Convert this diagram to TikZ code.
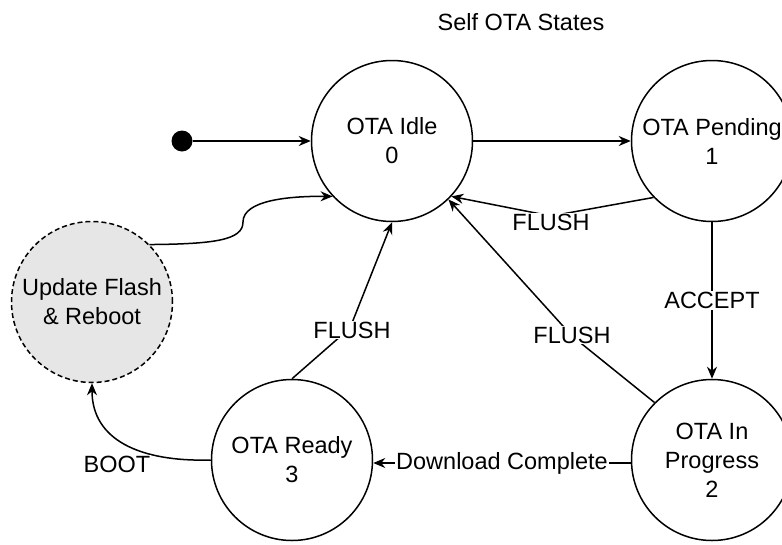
\documentclass[tikz,border=0pt]{standalone}
\usepackage{fontspec}
\setmainfont{Liberation Sans}
\usetikzlibrary{arrows.meta}
\definecolor{flashgray}{HTML}{E6E6E6}
\begin{document}
\begin{tikzpicture}[x=1pt,y=-1pt,
  font=\fontsize{23.5}{29}\selectfont,
  state/.style={circle,draw,line width=1.5pt,minimum size=161pt,inner sep=0pt,align=center},
  dashstate/.style={state,fill=flashgray,dash pattern=on 5pt off 3pt},
  arr/.style={line width=1.5pt,-{Stealth[length=12pt,width=10pt]}},
  lbl/.style={fill=white,inner sep=1pt}]
\useasboundingbox (0,0) rectangle (782,544);
\node (title) at (521,22) {Self OTA States};
\node[circle,fill=black,minimum size=21pt,inner sep=0pt] (init) at (182,141) {};
\node[state] (idle) at (392,141) {OTA Idle\\0};
\node[state] (pend) at (712,141) {OTA Pending\\1};
\node[state] (prog) at (712,460) {OTA In\\Progress\\2};
\node[state] (ready) at (292,460) {OTA Ready\\3};
\node[dashstate] (upd) at (92,302) {Update Flash\\\& Reboot};
\coordinate (w1) at (551,216);
\coordinate (w2) at (572,336);
\coordinate (w3) at (350,328);
\draw[arr] (init) -- (idle);
\draw[arr] (idle) -- (pend);
\draw[arr] (pend.224) -- (w1) -- (idle.-43);
\node[lbl] (l1) at (551,222) {FLUSH};
\draw[arr] (pend) -- node[lbl] (l2) {ACCEPT} (prog);
\draw[arr] (prog.135) -- (w2) -- (idle.-46);
\node[lbl] (l3) at (572,335) {FLUSH};
\draw[arr] ([yshift=-3pt]prog.west) -- node[lbl] (l4) {Download Complete} ([yshift=-3pt]ready.east);
\draw[arr] (ready.north) -- (w3) -- (idle.south);
\node[lbl] (l5) at (352,330) {FLUSH};
\draw[arr] (ready.west) .. controls (140,462) and (92,440) .. (upd.south);
\node[lbl] (l6) at (117,464) {BOOT};
\coordinate (w4) at (243,222);
\draw[arr] (upd.45) .. controls (215,244) and (243,240) .. (w4) .. controls (243,200) and (290,196) .. (idle.223);
\end{tikzpicture}
\end{document}
